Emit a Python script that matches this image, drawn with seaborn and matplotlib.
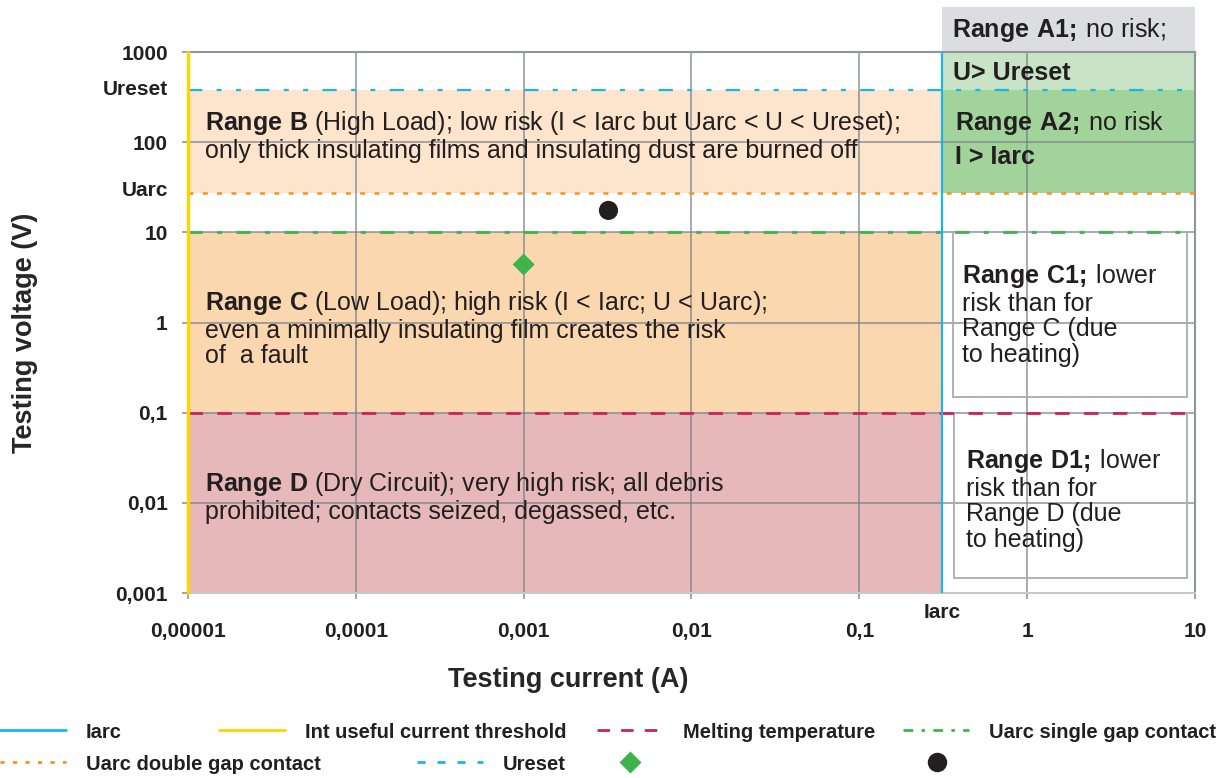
import matplotlib
matplotlib.use("Agg")
import matplotlib.pyplot as plt
import matplotlib.transforms as mtransforms
from matplotlib.lines import Line2D
from matplotlib.patches import Rectangle
import pandas as pd
import seaborn as sns

# thresholds (current in A, voltage in V)
int_threshold = 1e-5
i_arc = 0.31
u_reset = 380
u_arc_double = 27
u_arc_single = 10
u_melting = 0.1

current_ticks = [1e-5, 1e-4, 1e-3, 1e-2, 1e-1, 1, 10]
current_labels = ["0,00001", "0,0001", "0,001", "0,01", "0,1", "1", "10"]
voltage_ticks = [0.001, 0.01, 0.1, 1, 10, 100, 1000]
voltage_labels = ["0,001", "0,01", "0,1", "1", "10", "100", "1000"]

# the two measured points
point_kind = ["diamond", "circle"]
point_current = [0.001, 0.0032]
point_voltage = [4.4, 17.5]

text_color = "#231f20"
blue = "#1cb5ea"
yellow = "#ffd400"
crimson = "#c8245c"
green_line = "#3db54a"
orange = "#f7941d"
grid_color = "#747d85"

sns.set_theme(style="white")
plt.rcParams["font.family"] = ["Liberation Sans", "DejaVu Sans"]
plt.rcParams["mathtext.fontset"] = "custom"
plt.rcParams["mathtext.rm"] = "Liberation Sans"
plt.rcParams["mathtext.bf"] = "Liberation Sans:bold"
plt.rcParams["lines.scale_dashes"] = False
plt.rcParams["text.color"] = text_color

W, H = 1220, 778
fig = plt.figure(figsize=(W / 100, H / 100), dpi=100)
ax = fig.add_axes([188 / W, 185 / H, 1007 / W, 541 / H])
ax.set_xscale("log")
ax.set_yscale("log")
ax.set_xlim(current_ticks[0], current_ticks[-1])
ax.set_ylim(voltage_ticks[0], voltage_ticks[-1])

# coloured ranges
left_x = [int_threshold, i_arc]
right_x = [i_arc, current_ticks[-1]]
ax.fill_between(left_x, u_arc_double, u_reset, color="#fde4cc", lw=0, zorder=0.2)
ax.fill_between(left_x, u_melting, u_arc_single, color="#fbd7b0", lw=0, zorder=0.2)
ax.fill_between(left_x, voltage_ticks[0], u_melting, color="#e6b8b9", lw=0, zorder=0.2)
ax.fill_between(right_x, u_reset, voltage_ticks[-1], color="#c8e3c5", lw=0, zorder=0.2)
ax.fill_between(right_x, u_arc_double, u_reset, color="#a1d39b", lw=0, zorder=0.2)

ax.grid(True, which="major", color=grid_color, alpha=0.75, lw=1.2)
ax.set_axisbelow(True)

# threshold lines
ureset_dash = (10.3, 10.3, 3.6, 10.3, 3.6, 10.3)
single_dash = (10.3, 10.3, 3.6, 10.3)
double_dash = (3.6, 6.7)
melt_dash = (10.4, 10.4)
ax.axhline(u_reset, color=blue, lw=1.6, dashes=ureset_dash, zorder=3)
ax.axhline(u_arc_double, color=orange, lw=1.8, dashes=double_dash, zorder=3)
ax.axhline(u_arc_single, color=green_line, lw=2.0, dashes=single_dash, zorder=3)
ax.axhline(u_melting, color=crimson, lw=2.0, dashes=melt_dash, zorder=3)
ax.axvline(i_arc, color=blue, lw=1.6, zorder=4)
ax.axvline(int_threshold, color=yellow, lw=2.4, zorder=5, clip_on=False)

points = pd.DataFrame({"current": point_current, "voltage": point_voltage, "kind": point_kind})
sns.scatterplot(data=points, x="current", y="voltage", hue="kind", style="kind",
                markers={"diamond": "D", "circle": "o"},
                palette={"diamond": "#3cb44b", "circle": text_color},
                size="kind", sizes={"diamond": 125, "circle": 190},
                edgecolor="none", legend=False, ax=ax, zorder=6)

# axes styling
for side in ["top", "right"]:
    ax.spines[side].set_color("#8e959b")
    ax.spines[side].set_linewidth(1.5)
ax.spines["bottom"].set_color("#c5c9cc")
ax.spines["bottom"].set_linewidth(1.5)
ax.spines["left"].set_visible(False)

ax.set_xticks(current_ticks)
ax.set_xticklabels(current_labels)
ax.set_yticks(voltage_ticks)
ax.set_yticklabels(voltage_labels)
ax.minorticks_off()
ax.tick_params(axis="both", which="major", direction="out", length=4, width=1.2,
               color="#8e959b", labelsize=15, labelcolor=text_color, bottom=True, left=True)
ax.tick_params(axis="x", pad=17)
ax.tick_params(axis="y", pad=10.5)
for lab in ax.get_xticklabels() + ax.get_yticklabels():
    lab.set_fontweight("bold")

ymix = mtransforms.blended_transform_factory(ax.transAxes, ax.transData)
xmix = mtransforms.blended_transform_factory(ax.transData, ax.transAxes)
ax.annotate("Ureset", xy=(0, u_reset), xycoords=ymix, xytext=(-20, 0), textcoords="offset pixels",
            ha="right", va="center", fontsize=15, fontweight="bold")
ax.annotate("Uarc", xy=(0, u_arc_double), xycoords=ymix, xytext=(-20, 3), textcoords="offset pixels",
            ha="right", va="center", fontsize=15, fontweight="bold")
ax.annotate("Iarc", xy=(i_arc, 0), xycoords=xmix, xytext=(0, -20), textcoords="offset pixels",
            ha="center", va="center", fontsize=15, fontweight="bold")

ax.set_xlabel("Testing current (A)", fontsize=19.5, fontweight="bold")
ax.xaxis.set_label_coords(0.3774, -0.137)
ax.set_ylabel("Testing voltage (V)", fontsize=19.5, fontweight="bold")
ax.yaxis.set_label_coords(-0.149, 0.4806)

# range A1 header above the plot
ax.add_patch(Rectangle((i_arc, 1.0), current_ticks[-1] - i_arc, 0.0826, transform=xmix,
                       facecolor="#dcdde0", edgecolor="none", clip_on=False, zorder=1))
# outline boxes of C1 / D1
ax.add_patch(Rectangle((0.7597, 0.3623), 0.2323, 0.305, transform=ax.transAxes,
                       facecolor="none", edgecolor="#a7adb2", lw=1.3, zorder=2))
ax.add_patch(Rectangle((0.7607, 0.0277), 0.2313, 0.305, transform=ax.transAxes,
                       facecolor="none", edgecolor="#a7adb2", lw=1.3, zorder=2))

region_fs = 18
ls = 1.09
ax.text(0.0169, 0.8945,
        r"$\mathbf{Range\ B}$ (High Load); low risk (I < Iarc but Uarc < U < Ureset);" + "\n"
        "only thick insulating films and insulating dust are burned off",
        transform=ax.transAxes, ha="left", va="top", fontsize=region_fs, linespacing=ls, zorder=7)
ax.text(0.0169, 0.562,
        r"$\mathbf{Range\ C}$ (Low Load); high risk (I < Iarc; U < Uarc);" + "\n"
        "even a minimally insulating film creates the risk\nof  a fault",
        transform=ax.transAxes, ha="left", va="top", fontsize=region_fs, linespacing=ls, zorder=7)
ax.text(0.0169, 0.2277,
        r"$\mathbf{Range\ D}$ (Dry Circuit); very high risk; all debris" + "\n"
        "prohibited; contacts seized, degassed, etc.",
        transform=ax.transAxes, ha="left", va="top", fontsize=region_fs, linespacing=ls, zorder=7)
ax.text(0.7686, 0.6118, r"$\mathbf{Range\ C1;}\,$lower" + "\nrisk than for\nRange C (due\nto heating)",
        transform=ax.transAxes, ha="left", va="top", fontsize=region_fs, linespacing=ls, zorder=7)
ax.text(0.7726, 0.2698, r"$\mathbf{Range\ D1;}\,$lower" + "\nrisk than for\nRange D (due\nto heating)",
        transform=ax.transAxes, ha="left", va="top", fontsize=region_fs, linespacing=ls, zorder=7)
ax.text(0.7587, 1.0407, r"$\mathbf{Range\ A1;}\,$no risk;", transform=ax.transAxes,
        ha="left", va="center", fontsize=region_fs, zorder=7, clip_on=False)
ax.text(0.760, 0.9612, "U> Ureset", transform=ax.transAxes, ha="left", va="center",
        fontsize=region_fs, fontweight="bold", zorder=7)
ax.text(0.7617, 0.8688, r"$\mathbf{Range\ A2;}\,$no risk", transform=ax.transAxes,
        ha="left", va="center", fontsize=region_fs, zorder=7)
ax.text(0.7617, 0.806, "I > Iarc", transform=ax.transAxes, ha="left", va="center",
        fontsize=region_fs, fontweight="bold", zorder=7)

# legend, one entry at a time (the original does not line up in columns)
legend_entries = [
    (Line2D([], [], color=blue, lw=2.0), "Iarc", 0, 732),
    (Line2D([], [], color=yellow, lw=2.0), "Int useful current threshold", 219, 732),
    (Line2D([], [], color=crimson, lw=2.0, dashes=(9, 8)), "Melting temperature", 597, 732),
    (Line2D([], [], color=green_line, lw=2.0, dashes=(7, 6, 2.5, 6)), "Uarc single gap contact", 903, 732),
    (Line2D([], [], color=orange, lw=2.0, dashes=(3, 6)), "Uarc double gap contact", 0, 764),
    (Line2D([], [], color=blue, lw=2.0, dashes=(5.8, 8.6)), "Ureset", 417, 764),
    (Line2D([], [], ls="none", marker="D", ms=11, color="#3cb44b", mec="none"), "", 597, 764),
    (Line2D([], [], ls="none", marker="o", ms=14, color=text_color, mec="none"), "", 904, 764),
]
for handle, label, lx, ly in legend_entries:
    fig.legend(handles=[handle], labels=[label], loc="center left",
               bbox_to_anchor=(lx / W, 1 - ly / H), frameon=False, borderpad=0,
               borderaxespad=0, handlelength=3.3, handletextpad=0.95,
               prop={"weight": "bold", "size": 14.5}, labelcolor=text_color)

fig.savefig("out.png", dpi=100)
